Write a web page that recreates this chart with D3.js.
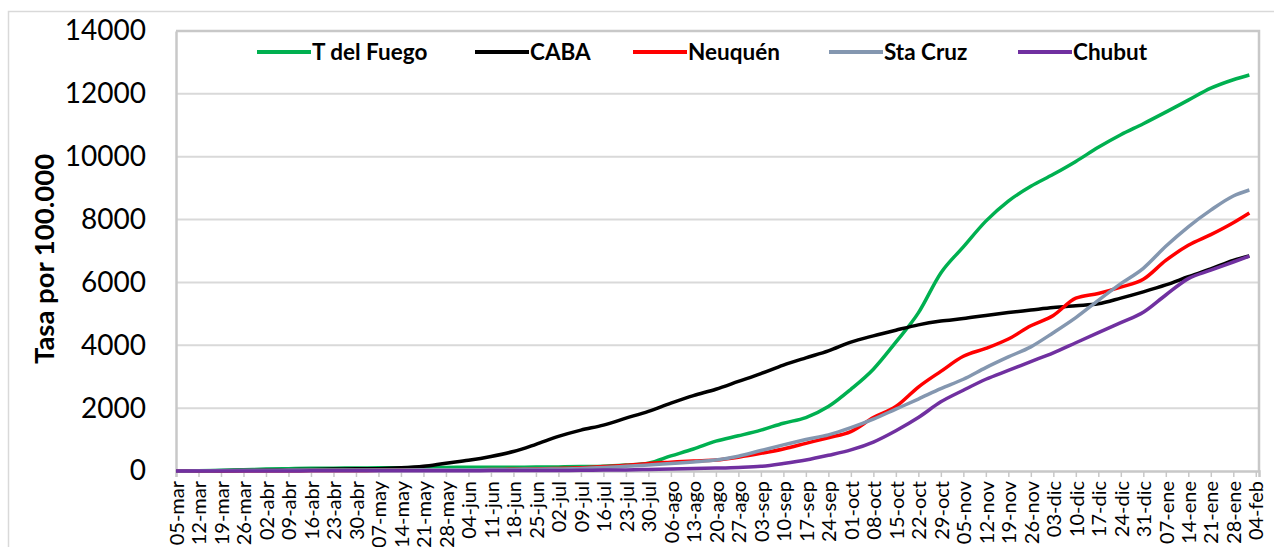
<!DOCTYPE html>
<html>
<head>
<meta charset="utf-8">
<script src="https://cdn.jsdelivr.net/npm/d3@7"></script>
<style>
  html, body { margin: 0; padding: 0; background: #fff; }
  svg { display: block; }
  text { font-family: Lato, "Open Sans", sans-serif; fill: #000; }
</style>
</head>
<body>
<svg id="chart" width="1274" height="547"></svg>
<script>
// ---- Data ----
const dates = ["2020-03-05","2020-03-12","2020-03-19","2020-03-26","2020-04-02","2020-04-09","2020-04-16","2020-04-23","2020-04-30",
  "2020-05-07","2020-05-14","2020-05-21","2020-05-28","2020-06-04","2020-06-11","2020-06-18","2020-06-25",
  "2020-07-02","2020-07-09","2020-07-16","2020-07-23","2020-07-30","2020-08-06","2020-08-13","2020-08-20",
  "2020-08-27","2020-09-03","2020-09-10","2020-09-17","2020-09-24","2020-10-01","2020-10-08","2020-10-15",
  "2020-10-22","2020-10-29","2020-11-05","2020-11-12","2020-11-19","2020-11-26","2020-12-03","2020-12-10",
  "2020-12-17","2020-12-24","2020-12-31","2021-01-07","2021-01-14","2021-01-21","2021-01-28","2021-02-02"];

const tdelFuego = [0,5,20,40,60,75,85,90,95, 100,105,110,115, 118,120,122,125, 130,140,150,190,
  250,480,700,950, 1120,1300,1520,1700, 2050,2600,3240,4100, 5030,6300,7130,7950, 8590,9060,9440,9850,
  10300,10700,11050,11420, 11800,12180,12450,12600];
const caba = [0,2,10,20,30,40,50,60,70, 75,100,150,250, 340,460,620,850, 1100,1300,1460,1680,
  1900,2160,2400,2600, 2850,3100,3370,3600, 3820,4100,4300,4480, 4650,4770,4850,4950, 5040,5120,5200,5260,
  5320,5500,5700,5920, 6180,6430,6700,6840];
const neuquen = [0,0,2,5,8,10,12,14,16, 20,25,30,35, 40,45,55,65, 80,100,140,180,
  240,280,320,350, 440,560,700,880, 1060,1250,1700,2050, 2670,3170,3650,3900, 4200,4620,4950,5500,
  5650,5850,6100,6700, 7180,7520,7900,8210];
const staCruz = [0,5,15,20,25,28,30,30,32, 33,35,38,40, 42,45,50,55, 65,80,110,150,
  190,240,290,350, 470,650,830,1000, 1150,1380,1650,1970, 2290,2620,2920,3290, 3630,3950,4400,4880,
  5430,5960,6450,7150, 7770,8300,8750,8940];
const chubut = [0,0,0,1,2,3,4,5,6, 7,8,9,10, 11,12,13,15, 18,22,28,35,
  50,65,80,95, 115,150,240,350, 500,670,920,1280, 1700,2200,2570,2920, 3200,3480,3760,4080,
  4400,4720,5050,5600, 6120,6390,6650,6840];

const seriesNames = ["T del Fuego","CABA","Neuquén","Sta Cruz","Chubut"];
const seriesColors = ["#00B050","#000000","#FF0000","#8497B0","#7030A0"];
const seriesValues = [tdelFuego, caba, neuquen, staCruz, chubut];

const tickDates = ["2020-03-05","2020-03-12","2020-03-19","2020-03-26","2020-04-02","2020-04-09","2020-04-16","2020-04-23","2020-04-30",
  "2020-05-07","2020-05-14","2020-05-21","2020-05-28","2020-06-04","2020-06-11","2020-06-18","2020-06-25",
  "2020-07-02","2020-07-09","2020-07-16","2020-07-23","2020-07-30","2020-08-06","2020-08-13","2020-08-20",
  "2020-08-27","2020-09-03","2020-09-10","2020-09-17","2020-09-24","2020-10-01","2020-10-08","2020-10-15",
  "2020-10-22","2020-10-29","2020-11-05","2020-11-12","2020-11-19","2020-11-26","2020-12-03","2020-12-10",
  "2020-12-17","2020-12-24","2020-12-31","2021-01-07","2021-01-14","2021-01-21","2021-01-28","2021-02-04"];
const tickLabels = ["05-mar","12-mar","19-mar","26-mar","02-abr","09-abr","16-abr","23-abr","30-abr",
  "07-may","14-may","21-may","28-may","04-jun","11-jun","18-jun","25-jun",
  "02-jul","09-jul","16-jul","23-jul","30-jul","06-ago","13-ago","20-ago",
  "27-ago","03-sep","10-sep","17-sep","24-sep","01-oct","08-oct","15-oct",
  "22-oct","29-oct","05-nov","12-nov","19-nov","26-nov","03-dic","10-dic",
  "17-dic","24-dic","31-dic","07-ene","14-ene","21-ene","28-ene","04-feb"];
const yTicks = [0,2000,4000,6000,8000,10000,12000,14000];
const yTitle = "Tasa por 100.000";

// ---- Layout ----
const parse = d3.timeParse("%Y-%m-%d");
const svg = d3.select("#chart");
const L = 176, R = 1259, T = 31, B = 471;

const x = d3.scaleTime()
  .domain([parse("2020-03-05"), parse("2021-02-05")])
  .range([L, R]);
const y = d3.scaleLinear().domain([0, 14000]).range([B, T]);

// outer chart border
svg.append("rect").attr("x", 8.5).attr("y", 11.5).attr("width", 1270).attr("height", 560)
  .attr("fill", "none").attr("stroke", "#d9d9d9").attr("stroke-width", 1.5);

// gridlines
svg.append("g").selectAll("line").data(yTicks.filter(v => v > 0 && v < 14000)).join("line")
  .attr("x1", L).attr("x2", R).attr("y1", d => y(d)).attr("y2", d => y(d))
  .attr("stroke", "#d9d9d9").attr("stroke-width", 2);

// plot frame (top/right)
svg.append("path")
  .attr("d", `M${L},${T}H${R}V${B}`)
  .attr("fill", "none").attr("stroke", "#c8c8c8").attr("stroke-width", 2.5);

// y axis
const yAxis = svg.append("g").attr("transform", `translate(${L},0)`)
  .call(d3.axisLeft(y).tickValues(yTicks).tickSize(0).tickPadding(30).tickFormat(d3.format("d")));
yAxis.select(".domain").attr("stroke", "#c8c8c8").attr("stroke-width", 2.5);
yAxis.selectAll("text").attr("font-size", 28).attr("font-family", "Lato, sans-serif").attr("fill", "#000");

// x axis
const xAxis = svg.append("g").attr("transform", `translate(0,${B})`)
  .call(d3.axisBottom(x).tickValues(tickDates.map(parse)).tickSize(6)
    .tickFormat((d, i) => tickLabels[i]));
xAxis.select(".domain").attr("stroke", "#c8c8c8").attr("stroke-width", 2.5);
xAxis.selectAll(".tick line").attr("stroke", "#c8c8c8").attr("stroke-width", 1.5);
xAxis.selectAll("text")
  .attr("font-size", 20).attr("font-family", "Lato, sans-serif").attr("fill", "#000")
  .attr("text-anchor", "end")
  .attr("transform", "rotate(-90)")
  .attr("x", -10).attr("y", 0).attr("dy", "0.36em");

// y title
svg.append("text")
  .attr("transform", "translate(54,259) rotate(-90)")
  .attr("text-anchor", "middle")
  .attr("font-size", 27.5).attr("font-weight", "bold")
  .text(yTitle);

// lines
const line = d3.line()
  .x((d, i) => x(parse(dates[i])))
  .y(d => y(d))
  .curve(d3.curveMonotoneX);

svg.append("g").selectAll("path").data(seriesValues).join("path")
  .attr("d", d => line(d))
  .attr("fill", "none")
  .attr("stroke", (d, i) => seriesColors[i])
  .attr("stroke-width", 3.5)
  .attr("stroke-linejoin", "round");

// legend
const legendX = [257, 475, 633, 829, 1018];
const leg = svg.append("g").selectAll("g").data(seriesNames).join("g")
  .attr("transform", (d, i) => `translate(${legendX[i]},52)`);
leg.append("line").attr("x1", 0).attr("x2", 54).attr("y1", 0).attr("y2", 0)
  .attr("stroke", (d, i) => seriesColors[i]).attr("stroke-width", 4);
leg.append("text").attr("x", 55).attr("dy", "0.35em")
  .attr("font-size", 22.5).attr("font-weight", "bold")
  .text(d => d);
</script>
</body>
</html>
